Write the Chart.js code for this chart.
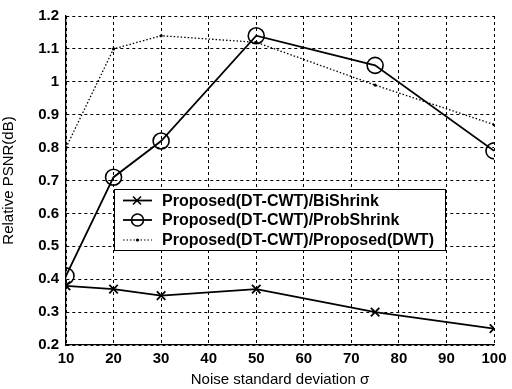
<!DOCTYPE html>
<html>
<head>
<meta charset="utf-8">
<script src="https://cdn.jsdelivr.net/npm/chart.js@4/dist/chart.umd.min.js"></script>
<style>
  html, body { margin: 0; padding: 0; background: #fff; }
  #wrap { width: 512px; height: 389px; }
</style>
</head>
<body>
<div id="wrap"><canvas id="grafico" width="512" height="389"></canvas></div>
<script>
// dados
const sigma = [10, 20, 30, 50, 75, 100];
const biShrink = [0.38, 0.37, 0.35, 0.37, 0.30, 0.25];
const probShrink = [0.41, 0.71, 0.82, 1.14, 1.05, 0.79];
const propDWT = [0.80, 1.10, 1.14, 1.12, 0.99, 0.87];
const nomes = ['Proposed(DT-CWT)/BiShrink', 'Proposed(DT-CWT)/ProbShrink', 'Proposed(DT-CWT)/Proposed(DWT)'];
const xTicks = [10, 20, 30, 40, 50, 60, 70, 80, 90, 100];
const yTicks = [0.2, 0.3, 0.4, 0.5, 0.6, 0.7, 0.8, 0.9, 1, 1.1, 1.2];

const fonte = 'Liberation Sans, Arial, sans-serif';

function pontos(vals) {
    return sigma.map(function(s, i) { return {x: s, y: vals[i]}; });
}

// legenda desenhada dentro da area do grafico
const legendaDentro = {
    id: 'legendaDentro',
    afterDraw: function(chart) {
        const ctx = chart.ctx;
        const x0 = 114, y0 = 189, w = 331, h = 61;
        ctx.save();
        ctx.fillStyle = '#fff';
        ctx.fillRect(x0, y0, w, h);
        ctx.strokeStyle = '#000';
        ctx.lineWidth = 1;
        ctx.strokeRect(x0 + 0.5, y0 + 0.5, w, h);
        ctx.font = 'bold 16px ' + fonte;
        ctx.textBaseline = 'middle';
        const linhas = [200.5, 220, 240];
        for (let i = 0; i < 3; i++) {
            const y = linhas[i];
            ctx.strokeStyle = '#000';
            ctx.lineWidth = i === 2 ? 1.2 : 1.8;
            ctx.setLineDash(i === 2 ? [1.5, 2] : []);
            ctx.beginPath();
            ctx.moveTo(123, y);
            ctx.lineTo(152, y);
            ctx.stroke();
            ctx.setLineDash([]);
            ctx.lineWidth = 1.6;
            if (i === 0) {
                ctx.beginPath();
                ctx.moveTo(133, y - 4); ctx.lineTo(141, y + 4);
                ctx.moveTo(133, y + 4); ctx.lineTo(141, y - 4);
                ctx.stroke();
            } else if (i === 1) {
                ctx.beginPath();
                ctx.arc(137.5, y, 6, 0, Math.PI * 2);
                ctx.stroke();
            } else {
                ctx.fillStyle = '#000';
                ctx.beginPath();
                ctx.arc(137.5, y, 1.6, 0, Math.PI * 2);
                ctx.fill();
            }
            ctx.fillStyle = '#000';
            ctx.fillText(nomes[i], 162, y + 1);
        }
        ctx.restore();
    }
};

const ctx = document.getElementById('grafico').getContext('2d');

new Chart(ctx, {
    type: 'line',
    data: {
        datasets: [{
            label: nomes[0],
            data: pontos(biShrink),
            borderColor: '#000',
            borderWidth: 1.8,
            pointStyle: 'crossRot',
            pointRadius: 6,
            pointBorderWidth: 1.8,
            pointBorderColor: '#000',
            pointBackgroundColor: 'rgba(0,0,0,0)',
            tension: 0
        }, {
            label: nomes[1],
            data: pontos(probShrink),
            borderColor: '#000',
            borderWidth: 1.8,
            pointStyle: 'circle',
            pointRadius: 8,
            pointBorderWidth: 1.6,
            pointBorderColor: '#000',
            pointBackgroundColor: 'rgba(0,0,0,0)',
            tension: 0
        }, {
            label: nomes[2],
            data: pontos(propDWT),
            borderColor: '#000',
            borderWidth: 1.3,
            borderDash: [1.5, 2],
            pointStyle: 'circle',
            pointRadius: 1.6,
            pointBorderWidth: 0,
            pointBackgroundColor: '#000',
            tension: 0
        }]
    },
    options: {
        responsive: false,
        animation: false,
        layout: { padding: { top: 10, right: 18, left: 0, bottom: 0 } },
        plugins: {
            legend: { display: false },
            tooltip: { enabled: false }
        },
        scales: {
            x: {
                type: 'linear',
                min: 10,
                max: 100,
                afterFit: function(scale) { scale.height = 44; },
                afterBuildTicks: function(scale) {
                    scale.ticks = xTicks.map(function(v) { return {value: v}; });
                },
                grid: { color: '#000', lineWidth: 1, drawTicks: false },
                border: { display: true, color: '#000', width: 1.3, dash: [3, 3] },
                ticks: {
                    color: '#000',
                    padding: 5,
                    maxRotation: 0,
                    font: { family: fonte, size: 15, weight: 'bold' }
                },
                title: {
                    display: true,
                    text: 'Noise standard deviation σ',
                    color: '#000',
                    padding: { top: 0, bottom: 0 },
                    font: { family: fonte, size: 15 }
                }
            },
            y: {
                type: 'linear',
                min: 0.2,
                max: 1.2,
                afterFit: function(scale) { scale.width = 66; },
                afterBuildTicks: function(scale) {
                    scale.ticks = yTicks.map(function(v) { return {value: v}; });
                },
                grid: { color: '#000', lineWidth: 1, drawTicks: false },
                border: { display: true, color: '#000', width: 1.3, dash: [3, 3] },
                ticks: {
                    color: '#000',
                    padding: 7,
                    font: { family: fonte, size: 15, weight: 'bold' },
                    callback: function(v) { return String(Number(v.toFixed(1))); }
                },
                title: {
                    display: true,
                    text: 'Relative PSNR(dB)',
                    color: '#000',
                    padding: { top: 0, bottom: 4 },
                    font: { family: fonte, size: 15 }
                }
            }
        }
    },
    plugins: [legendaDentro]
});
</script>
</body>
</html>
